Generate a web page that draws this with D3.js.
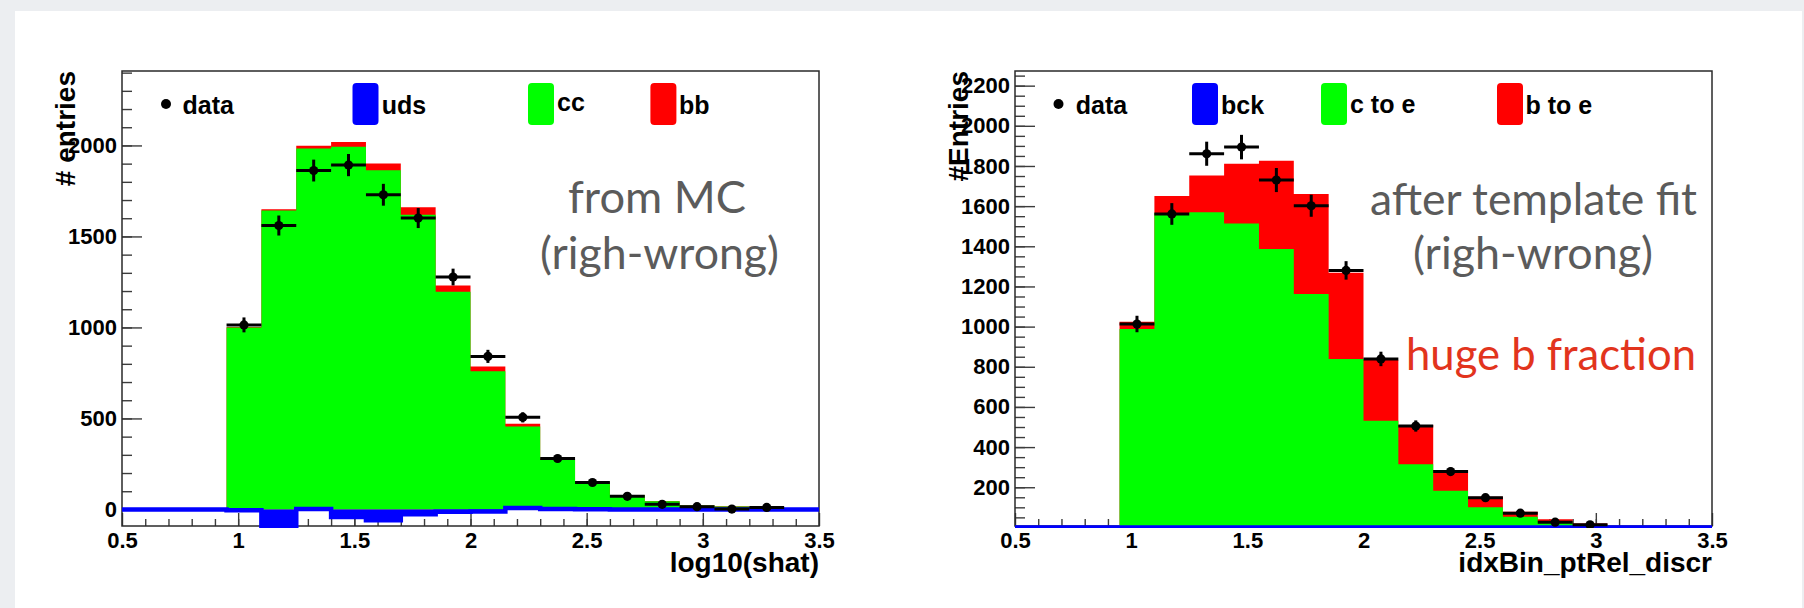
<!DOCTYPE html>
<html>
<head>
<meta charset="utf-8">
<script src="https://cdn.jsdelivr.net/npm/d3@7"></script>
<style>
  html, body { margin: 0; padding: 0; background: #eceef1; }
  svg { display: block; }
</style>
</head>
<body>
<svg id="fig" width="1804" height="608"></svg>
<script>
// Shared binning: 20 bins of width 0.15 covering [0.5, 3.5]
const binLow = 0.5;
const binWidth = 0.15;
const nBins = 20;
const xTickValues = [0.5, 1, 1.5, 2, 2.5, 3, 3.5];
const xTickLabels = ["0.5", "1", "1.5", "2", "2.5", "3", "3.5"];

// ---- log10(shat), MC stack (right-wrong) ----
const shatUds = [0, 0, 0, -5, -110, 3, -42, -60, -27, -13, -11, 8, 3, 1, 0, 0, 0, 0, 0, 0];
const shatCc  = [0, 0, 0, 1005, 1753, 1980, 2035, 1923, 1646, 1209, 770, 448, 270, 146, 78, 45, 22, 16, 12, 0];
const shatBb  = [0, 0, 0, 3, 7, 15, 26, 38, 42, 35, 27, 15, 7, 2, 2, 1, 1, 1, 1, 0];
const shatDataBins = [3, 4, 5, 6, 7, 8, 9, 10, 11, 12, 13, 14, 15, 16, 17, 18];
const shatData     = [1014, 1560, 1862, 1892, 1729, 1601, 1277, 841, 506, 280, 148, 72, 28, 15, 2, 11];
const shatErr      = [41, 55, 60, 61, 60, 55, 46, 36, 28, 20, 15, 10, 8, 6, 4, 5];
const shatYTicks      = [0, 500, 1000, 1500, 2000];
const shatYTickLabels = ["0", "500", "1000", "1500", "2000"];
const shatLegend = ["data", "uds", "cc", "bb"];

// ---- idxBin_ptRel_discr, after template fit ----
const ptrelBck  = [0, 0, 0, 0, 0, 0, 0, 0, 0, 0, 0, 0, 0, 0, 0, 0, 0, 0, 0, 0];
const ptrelCtoE = [0, 0, 0, 988, 1566, 1570, 1514, 1387, 1162, 839, 531, 314, 183, 100, 53, 28, 14, 0, 0, 0];
const ptrelBtoE = [0, 0, 0, 36, 84, 183, 297, 439, 498, 429, 303, 196, 103, 53, 25, 12, 6, 0, 0, 0];
const ptrelDataBins = [3, 4, 5, 6, 7, 8, 9, 10, 11, 12, 13, 14, 15, 16];
const ptrelData     = [1013, 1561, 1861, 1894, 1730, 1602, 1280, 839, 505, 278, 148, 71, 26, 13];
const ptrelErr      = [41, 54, 60, 61, 60, 55, 46, 36, 28, 20, 15, 10, 8, 6];
const ptrelYTicks      = [200, 400, 600, 800, 1000, 1200, 1400, 1600, 1800, 2000, 2200];
const ptrelYTickLabels = ["200", "400", "600", "800", "1000", "1200", "1400", "1600", "1800", "2000", "2200"];
const ptrelLegend = ["data", "bck", "c to e", "b to e"];

const stackColors = ["#0000ff", "#00ff00", "#ff0000"];
const axisFont = "'Liberation Sans', Arial, Helvetica, sans-serif";
const noteFont = "Lato, 'Open Sans', sans-serif";

const svg = d3.select("#fig");

// white slide panel
svg.append("rect").attr("x", 15).attr("y", 11).attr("width", 1787).attr("height", 597).attr("fill", "#ffffff");

// canvas context used to measure glyph ink for ROOT-like vertical centring
const measureCtx = document.createElement("canvas").getContext("2d");

function drawPanel(c) {
  const g = svg.append("g");
  const x = d3.scaleLinear().domain([0.5, 3.5]).range([c.left, c.right]);
  const y = d3.scaleLinear().domain(c.yDomain).range([c.bottom, c.top]);

  // axes with ticks pointing inwards (drawn first, the histograms cover them)
  const xAxisMinor = d3.axisBottom(x).tickValues(d3.range(6, 35).map(i => i / 10)).tickSize(-7).tickFormat("");
  const xAxisMajor = d3.axisBottom(x).tickValues(xTickValues).tickSize(-13).tickPadding(6)
    .tickFormat((d, i) => xTickLabels[i]);
  const yAxisMinor = d3.axisLeft(y).tickValues(c.yMinor).tickSize(-10).tickFormat("");
  const yAxisMajor = d3.axisLeft(y).tickValues(c.yTicks).tickSize(-20).tickPadding(5)
    .tickFormat((d, i) => c.yTickLabels[i]);

  const axes = g.append("g");
  [[xAxisMinor, `translate(0,${c.bottom})`], [xAxisMajor, `translate(0,${c.bottom})`],
   [yAxisMinor, `translate(${c.left},0)`], [yAxisMajor, `translate(${c.left},0)`]].forEach(([ax, tr]) => {
    const a = axes.append("g").attr("transform", tr).call(ax);
    a.select(".domain").remove();
    a.selectAll(".tick line").attr("stroke", "#3c3c3c").attr("stroke-width", 1.4);
    a.selectAll(".tick text")
      .attr("font-family", axisFont).attr("font-weight", "bold")
      .attr("font-size", 22).attr("fill", "#000");
  });

  // frame
  g.append("rect")
    .attr("x", c.left).attr("y", c.top)
    .attr("width", c.right - c.left).attr("height", c.bottom - c.top)
    .attr("fill", "none").attr("stroke", "#2a2a2a").attr("stroke-width", 1.5);

  const clipId = c.id + "-clip";
  svg.append("clipPath").attr("id", clipId)
    .append("rect")
    .attr("x", c.left).attr("y", c.top)
    .attr("width", c.right - c.left).attr("height", c.bottom - c.top + 2);

  const plot = g.append("g").attr("clip-path", `url(#${clipId})`);
  const edges = d3.range(nBins + 1).map(i => binLow + i * binWidth);
  const steps = vals => vals.flatMap((v, i) => [[edges[i], v], [edges[i + 1], v]]);
  const area = d3.area().x(d => x(d[0])).y0(y(0)).y1(d => y(d[1]));
  const line = d3.line().x(d => x(d[0])).y(d => y(d[1]));

  // THStack drawing order: full sum first, then partial sums
  const s1 = c.stack[0];
  const s12 = s1.map((v, i) => v + c.stack[1][i]);
  const s123 = s12.map((v, i) => v + c.stack[2][i]);
  plot.append("path").attr("d", area(steps(s123))).attr("fill", stackColors[2]);
  plot.append("path").attr("d", area(steps(s12))).attr("fill", stackColors[1]);
  plot.append("path").attr("d", area(steps(s1))).attr("fill", stackColors[0]);
  plot.append("path").attr("d", line(steps(s1)))
    .attr("fill", "none").attr("stroke", stackColors[0]).attr("stroke-width", 4.5);

  // data points with error bars
  const pts = c.dataBins.map((b, k) => ({
    lo: edges[b], hi: edges[b + 1], xc: (edges[b] + edges[b + 1]) / 2,
    v: c.data[k], e: c.err[k]
  }));
  const dp = plot.append("g").selectAll("g").data(pts).join("g");
  dp.append("line")
    .attr("x1", d => x(d.lo)).attr("x2", d => x(d.hi))
    .attr("y1", d => y(d.v)).attr("y2", d => y(d.v))
    .attr("stroke", "#000").attr("stroke-width", 3);
  dp.append("line")
    .attr("x1", d => x(d.xc)).attr("x2", d => x(d.xc))
    .attr("y1", d => y(d.v - d.e)).attr("y2", d => y(d.v + d.e))
    .attr("stroke", "#000").attr("stroke-width", 3);
  dp.append("circle")
    .attr("cx", d => x(d.xc)).attr("cy", d => y(d.v)).attr("r", 4.6)
    .attr("fill", "#000");

  // axis titles
  g.append("text")
    .attr("x", c.right).attr("y", c.bottom + 46)
    .attr("text-anchor", "end")
    .attr("font-family", axisFont).attr("font-weight", "bold").attr("font-size", 28)
    .text(c.xTitle);
  g.append("text")
    .attr("transform", `translate(${c.left - 47},${c.top}) rotate(-90)`)
    .attr("text-anchor", "end")
    .attr("font-family", axisFont).attr("font-weight", "bold").attr("font-size", 28)
    .text(c.yTitle);

  // legend (one row inside the frame)
  const legY = c.top + 33;
  const leg = g.append("g");
  const legFontSize = 25;
  measureCtx.font = `bold ${legFontSize}px 'Liberation Sans'`;
  c.legend.forEach((label, i) => {
    const pos = c.legendPos[i];
    if (i === 0) {
      leg.append("circle").attr("cx", c.left + pos[0]).attr("cy", legY).attr("r", 5).attr("fill", "#000");
    } else {
      leg.append("rect")
        .attr("x", c.left + pos[0]).attr("y", legY - 21)
        .attr("width", 26).attr("height", 42).attr("rx", 4)
        .attr("fill", stackColors[i - 1]);
    }
    const m = measureCtx.measureText(label);
    const base = legY + (m.actualBoundingBoxAscent - m.actualBoundingBoxDescent) / 2;
    leg.append("text")
      .attr("x", c.left + pos[1]).attr("y", base)
      .attr("font-family", axisFont).attr("font-weight", "bold").attr("font-size", legFontSize)
      .text(label);
  });

  // slide annotations
  c.notes.forEach(n => {
    g.append("text")
      .attr("x", n.x).attr("y", n.y)
      .attr("font-family", noteFont).attr("font-size", n.size)
      .attr("fill", n.color)
      .attr("textLength", n.width).attr("lengthAdjust", "spacingAndGlyphs")
      .text(n.text);
  });
}

drawPanel({
  id: "shat",
  left: 122, right: 819, top: 71, bottom: 526,
  yDomain: [-91, 2409],
  yTicks: shatYTicks, yTickLabels: shatYTickLabels,
  yMinor: d3.range(0, 2401, 100),
  stack: [shatUds, shatCc, shatBb],
  dataBins: shatDataBins, data: shatData, err: shatErr,
  xTitle: "log10(shat)", yTitle: "# entries",
  legend: shatLegend,
  legendPos: [[44, 60.5], [230.5, 259.7], [406, 435], [528.4, 557]],
  notes: [
    { text: "from MC", x: 568, y: 213, size: 45, width: 178, color: "#5b5b5b" },
    { text: "(righ-wrong)", x: 540, y: 269, size: 45, width: 239, color: "#5b5b5b" }
  ]
});

drawPanel({
  id: "ptrel",
  left: 1015, right: 1712, top: 71, bottom: 526,
  yDomain: [7, 2273],
  yTicks: ptrelYTicks, yTickLabels: ptrelYTickLabels,
  yMinor: d3.range(50, 2251, 50),
  stack: [ptrelBck, ptrelCtoE, ptrelBtoE],
  dataBins: ptrelDataBins, data: ptrelData, err: ptrelErr,
  xTitle: "idxBin_ptRel_discr", yTitle: "#Entries",
  legend: ptrelLegend,
  legendPos: [[43.5, 60.8], [177, 206], [306, 335], [482, 510.5]],
  notes: [
    { text: "after template fit", x: 1370, y: 215, size: 45, width: 327, color: "#5b5b5b" },
    { text: "(righ-wrong)", x: 1413, y: 269, size: 45, width: 240, color: "#5b5b5b" },
    { text: "huge b fraction", x: 1406, y: 370, size: 45, width: 290, color: "#e2341d" }
  ]
});
</script>
</body>
</html>
